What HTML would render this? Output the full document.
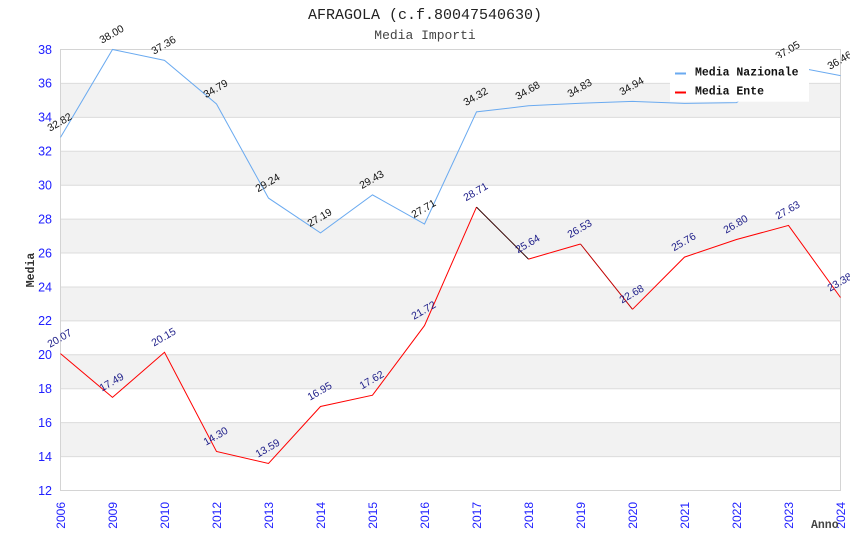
<!DOCTYPE html>
<html><head><meta charset="utf-8"><style>
html,body{margin:0;padding:0;background:#fff;}
svg{display:block;}
</style></head><body>
<svg width="850" height="550" viewBox="0 0 850 550" xmlns="http://www.w3.org/2000/svg">
<rect width="850" height="550" fill="#fff"/>
<!-- bands -->
<g fill="#f2f2f2">
<rect x="60.5" y="422.65" width="780" height="33.93"/>
<rect x="60.5" y="354.81" width="780" height="33.92"/>
<rect x="60.5" y="286.96" width="780" height="33.92"/>
<rect x="60.5" y="219.12" width="780" height="33.92"/>
<rect x="60.5" y="151.27" width="780" height="33.92"/>
<rect x="60.5" y="83.42" width="780" height="33.93"/>
</g>
<g stroke="#dcdcdc" stroke-width="1">
<line x1="60.5" x2="840.5" y1="456.58" y2="456.58"/>
<line x1="60.5" x2="840.5" y1="422.65" y2="422.65"/>
<line x1="60.5" x2="840.5" y1="388.73" y2="388.73"/>
<line x1="60.5" x2="840.5" y1="354.81" y2="354.81"/>
<line x1="60.5" x2="840.5" y1="320.88" y2="320.88"/>
<line x1="60.5" x2="840.5" y1="286.96" y2="286.96"/>
<line x1="60.5" x2="840.5" y1="253.04" y2="253.04"/>
<line x1="60.5" x2="840.5" y1="219.12" y2="219.12"/>
<line x1="60.5" x2="840.5" y1="185.19" y2="185.19"/>
<line x1="60.5" x2="840.5" y1="151.27" y2="151.27"/>
<line x1="60.5" x2="840.5" y1="117.35" y2="117.35"/>
<line x1="60.5" x2="840.5" y1="83.42" y2="83.42"/>
<line x1="60.5" x2="840.5" y1="49.5" y2="49.5"/>
</g>
<rect x="60.5" y="49.5" width="780" height="441" fill="none" stroke="#d4d4d4" stroke-width="1"/>

<!-- title -->
<text x="425" y="19" text-anchor="middle" font-family="Liberation Mono, monospace" font-size="15" fill="#222">AFRAGOLA (c.f.80047540630)</text>
<text x="425" y="39" text-anchor="middle" font-family="Liberation Mono, monospace" font-size="13" fill="#444">Media Importi</text>

<!-- y ticks -->
<g font-family="Liberation Sans, sans-serif" font-size="12.5" fill="#2020ff" text-anchor="end">
<text x="52" y="494.8">12</text>
<text x="52" y="460.9">14</text>
<text x="52" y="427">16</text>
<text x="52" y="393">18</text>
<text x="52" y="359.1">20</text>
<text x="52" y="325.2">22</text>
<text x="52" y="291.3">24</text>
<text x="52" y="257.3">26</text>
<text x="52" y="223.4">28</text>
<text x="52" y="189.5">30</text>
<text x="52" y="155.6">32</text>
<text x="52" y="121.7">34</text>
<text x="52" y="87.7">36</text>
<text x="52" y="53.8">38</text>
</g>

<!-- x ticks -->
<g font-family="Liberation Sans, sans-serif" font-size="12" fill="#2020ff" text-anchor="end">
<text transform="translate(64.8,502) rotate(-90)">2006</text>
<text transform="translate(116.8,502) rotate(-90)">2009</text>
<text transform="translate(168.8,502) rotate(-90)">2010</text>
<text transform="translate(220.8,502) rotate(-90)">2012</text>
<text transform="translate(272.8,502) rotate(-90)">2013</text>
<text transform="translate(324.8,502) rotate(-90)">2014</text>
<text transform="translate(376.8,502) rotate(-90)">2015</text>
<text transform="translate(428.8,502) rotate(-90)">2016</text>
<text transform="translate(480.8,502) rotate(-90)">2017</text>
<text transform="translate(532.8,502) rotate(-90)">2018</text>
<text transform="translate(584.8,502) rotate(-90)">2019</text>
<text transform="translate(636.8,502) rotate(-90)">2020</text>
<text transform="translate(688.8,502) rotate(-90)">2021</text>
<text transform="translate(740.8,502) rotate(-90)">2022</text>
<text transform="translate(792.8,502) rotate(-90)">2023</text>
<text transform="translate(844.8,502) rotate(-90)">2024</text>
</g>

<!-- axis titles -->
<text transform="translate(34,270) rotate(-90)" text-anchor="middle" font-family="Liberation Mono, monospace" font-weight="bold" font-size="11.5" fill="#333">Media</text>
<text x="811" y="528" font-family="Liberation Mono, monospace" font-weight="bold" font-size="11.5" fill="#444">Anno</text>

<!-- series Nazionale -->
<polyline fill="none" stroke="#6aaaf0" stroke-width="1" points="60.5,137.4 112.5,49.5 164.5,60.4 216.5,104 268.5,198.1 320.5,232.9 372.5,194.9 424.5,224 476.5,111.9 528.5,105.8 580.5,103.3 632.5,101.4 684.5,103.4 736.5,102.6 788.5,65.6 840.5,75.6"/>
<!-- series Ente -->
<polyline fill="none" stroke="#ff0000" stroke-width="1" points="60.5,353.6 112.5,397.4 164.5,352.3 216.5,451.5 268.5,463.5 320.5,406.5 372.5,395.2 424.5,325.6 476.5,207.1"/>
<line x1="476.5" y1="207.1" x2="528.5" y2="259.1" stroke="#300" stroke-width="1"/>
<polyline fill="none" stroke="#ff0000" stroke-width="1" points="528.5,259.1 580.5,244"/>
<line x1="580.5" y1="244" x2="632.5" y2="309.3" stroke="#c00000" stroke-width="1"/>
<polyline fill="none" stroke="#ff0000" stroke-width="1" points="632.5,309.3 684.5,257.1 736.5,239.5 788.5,225.4 840.5,297.5"/>

<!-- labels Nazionale -->
<g font-family="Liberation Sans, sans-serif" font-size="10.5" fill="#111" text-anchor="middle">
<text transform="translate(59.5,122) rotate(-30)" dy=".35em">32.82</text>
<text transform="translate(111.5,34) rotate(-30)" dy=".35em">38.00</text>
<text transform="translate(163.5,45) rotate(-30)" dy=".35em">37.36</text>
<text transform="translate(215.5,88.5) rotate(-30)" dy=".35em">34.79</text>
<text transform="translate(267.5,182.6) rotate(-30)" dy=".35em">29.24</text>
<text transform="translate(319.5,217.4) rotate(-30)" dy=".35em">27.19</text>
<text transform="translate(371.5,179.4) rotate(-30)" dy=".35em">29.43</text>
<text transform="translate(423.5,208.5) rotate(-30)" dy=".35em">27.71</text>
<text transform="translate(475.5,96.4) rotate(-30)" dy=".35em">34.32</text>
<text transform="translate(527.5,90.3) rotate(-30)" dy=".35em">34.68</text>
<text transform="translate(579.5,87.8) rotate(-30)" dy=".35em">34.83</text>
<text transform="translate(631.5,85.9) rotate(-30)" dy=".35em">34.94</text>
<text transform="translate(787.5,50.1) rotate(-30)" dy=".35em">37.05</text>
<text transform="translate(839.5,60.1) rotate(-30)" dy=".35em">36.46</text>
</g>
<!-- labels Ente -->
<g font-family="Liberation Sans, sans-serif" font-size="10.5" fill="#1c1c88" text-anchor="middle">
<text transform="translate(59.5,338.1) rotate(-30)" dy=".35em">20.07</text>
<text transform="translate(111.5,381.9) rotate(-30)" dy=".35em">17.49</text>
<text transform="translate(163.5,336.8) rotate(-30)" dy=".35em">20.15</text>
<text transform="translate(215.5,436) rotate(-30)" dy=".35em">14.30</text>
<text transform="translate(267.5,448) rotate(-30)" dy=".35em">13.59</text>
<text transform="translate(319.5,391) rotate(-30)" dy=".35em">16.95</text>
<text transform="translate(371.5,379.7) rotate(-30)" dy=".35em">17.62</text>
<text transform="translate(423.5,310.1) rotate(-30)" dy=".35em">21.72</text>
<text transform="translate(475.5,191.6) rotate(-30)" dy=".35em">28.71</text>
<text transform="translate(527.5,243.6) rotate(-30)" dy=".35em">25.64</text>
<text transform="translate(579.5,228.5) rotate(-30)" dy=".35em">26.53</text>
<text transform="translate(631.5,293.8) rotate(-30)" dy=".35em">22.68</text>
<text transform="translate(683.5,241.6) rotate(-30)" dy=".35em">25.76</text>
<text transform="translate(735.5,224) rotate(-30)" dy=".35em">26.80</text>
<text transform="translate(787.5,209.9) rotate(-30)" dy=".35em">27.63</text>
<text transform="translate(839.5,282) rotate(-30)" dy=".35em">23.38</text>
</g>

<!-- legend -->
<rect x="670" y="58" width="139" height="43.7" fill="#fff"/>
<line x1="675" y1="73.5" x2="686" y2="73.5" stroke="#6aaaf0" stroke-width="2"/>
<line x1="675" y1="92.5" x2="686" y2="92.5" stroke="#ff0000" stroke-width="2"/>
<g font-family="Liberation Mono, monospace" font-weight="bold" font-size="11.5" fill="#111">
<text x="695" y="75.5">Media Nazionale</text>
<text x="695" y="94.5">Media Ente</text>
</g>
</svg>
</body></html>
